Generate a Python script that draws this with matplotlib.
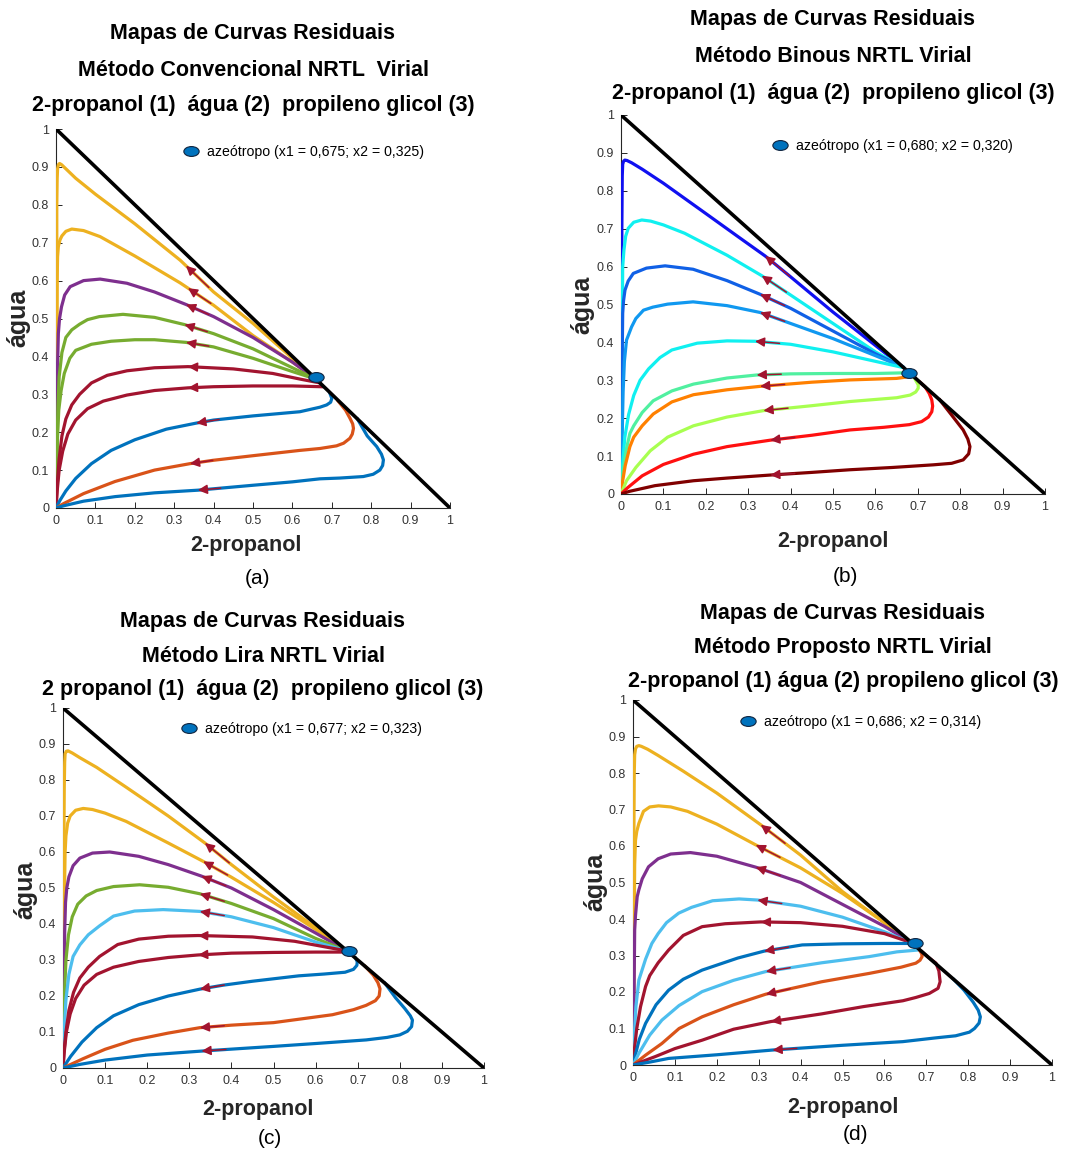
import numpy as np
import matplotlib
matplotlib.use('Agg')
import matplotlib.pyplot as plt
from matplotlib.path import Path
from matplotlib.transforms import Affine2D

plt.rcParams['font.family'] = ['Liberation Sans', 'DejaVu Sans']

# colours (MATLAB defaults + jet for panel b)
YEL = '#EDB120'
PUR = '#7E2F8E'
GRN = '#77AC30'
RED = '#A2142F'
BLU = '#0072BD'
ORA = '#D95319'
LBL = '#4DBEEE'
ARROW = '#A2142F'

TICKS = [0, 0.1, 0.2, 0.3, 0.4, 0.5, 0.6, 0.7, 0.8, 0.9, 1]
TICK_LABELS = ['0', '0.1', '0.2', '0.3', '0.4', '0.5', '0.6', '0.7', '0.8', '0.9', '1']

# ---------------- panel (a) ----------------
A_TITLE = ['Mapas de Curvas Residuais',
           'Método Convencional NRTL  Virial',
           '2-propanol (1)  água (2)  propileno glicol (3)']
A_AZEO = (0.66, 0.345)
A_LEGEND = 'azeótropo (x1 = 0,675; x2 = 0,325)'
A_COLORS = [YEL, YEL, PUR, GRN, GRN, RED, RED, BLU, ORA, BLU]
A_X = [
    [0.66, 0.6, 0.5, 0.4, 0.315, 0.2, 0.1, 0.05, 0.025, 0.014, 0.009, 0.006, 0.004, 0.003, 0.002, 0.002, 0.001, 0],
    [0.66, 0.6, 0.5, 0.4, 0.315, 0.2, 0.112, 0.07, 0.04, 0.025, 0.015, 0.01, 0.006, 0.004, 0.003, 0.002, 0.001, 0],
    [0.66, 0.6, 0.5, 0.4, 0.33, 0.25, 0.18, 0.112, 0.07, 0.036, 0.022, 0.014, 0.009, 0.006, 0.004, 0.003, 0.002, 0],
    [0.66, 0.6, 0.5, 0.4, 0.326, 0.25, 0.17, 0.11, 0.08, 0.06, 0.04, 0.025, 0.015, 0.008, 0.005, 0.003, 0.001, 0],
    [0.66, 0.6, 0.5, 0.4, 0.33, 0.25, 0.2, 0.14, 0.09, 0.05, 0.035, 0.021, 0.013, 0.007, 0.004, 0.002, 0],
    [0.67, 0.62, 0.55, 0.45, 0.335, 0.25, 0.18, 0.13, 0.09, 0.06, 0.04, 0.025, 0.015, 0.008, 0.003, 0],
    [0.675, 0.6, 0.5, 0.4, 0.335, 0.25, 0.18, 0.12, 0.08, 0.05, 0.03, 0.017, 0.008, 0.003, 0],
    [0.695, 0.7, 0.697, 0.687, 0.67, 0.619, 0.5, 0.4, 0.356, 0.28, 0.2, 0.14, 0.09, 0.05, 0.025, 0.01, 0],
    [0.717, 0.735, 0.746, 0.753, 0.755, 0.752, 0.746, 0.73, 0.712, 0.67, 0.619, 0.5, 0.4, 0.34, 0.25, 0.15, 0.07, 0.02, 0],
    [0.765, 0.79, 0.814, 0.826, 0.831, 0.829, 0.822, 0.805, 0.78, 0.72, 0.67, 0.6, 0.5, 0.36, 0.25, 0.15, 0.07, 0.02, 0],
]
A_Y = [
    [0.34, 0.395, 0.487, 0.57, 0.654, 0.75, 0.828, 0.87, 0.895, 0.906, 0.909, 0.906, 0.895, 0.87, 0.8, 0.5, 0.2, 0],
    [0.34, 0.385, 0.455, 0.535, 0.594, 0.665, 0.716, 0.732, 0.736, 0.73, 0.718, 0.707, 0.69, 0.663, 0.6, 0.4, 0.2, 0],
    [0.34, 0.385, 0.45, 0.505, 0.537, 0.57, 0.593, 0.604, 0.6, 0.584, 0.562, 0.531, 0.5, 0.461, 0.38, 0.28, 0.15, 0],
    [0.34, 0.37, 0.42, 0.46, 0.484, 0.503, 0.511, 0.505, 0.497, 0.485, 0.47, 0.45, 0.41, 0.346, 0.27, 0.18, 0.08, 0],
    [0.34, 0.36, 0.395, 0.425, 0.437, 0.444, 0.444, 0.44, 0.432, 0.416, 0.395, 0.355, 0.31, 0.258, 0.19, 0.1, 0],
    [0.33, 0.34, 0.355, 0.367, 0.373, 0.37, 0.362, 0.35, 0.33, 0.3, 0.272, 0.235, 0.19, 0.13, 0.06, 0],
    [0.32, 0.322, 0.322, 0.32, 0.317, 0.31, 0.298, 0.282, 0.262, 0.232, 0.195, 0.15, 0.1, 0.045, 0],
    [0.303, 0.289, 0.279, 0.272, 0.266, 0.254, 0.243, 0.232, 0.224, 0.208, 0.18, 0.152, 0.117, 0.078, 0.045, 0.02, 0],
    [0.281, 0.258, 0.237, 0.222, 0.21, 0.195, 0.184, 0.171, 0.164, 0.157, 0.152, 0.138, 0.126, 0.117, 0.1, 0.07, 0.038, 0.012, 0],
    [0.235, 0.19, 0.162, 0.142, 0.127, 0.112, 0.1, 0.089, 0.083, 0.079, 0.077, 0.069, 0.06, 0.047, 0.04, 0.03, 0.018, 0.006, 0],
]
A_ARROW_X = [0.33, 0.335, 0.33, 0.326, 0.33, 0.335, 0.335, 0.356, 0.34, 0.36]

# ---------------- panel (b) ----------------
B_TITLE = ['Mapas de Curvas Residuais',
           'Método Binous NRTL Virial',
           '2-propanol (1)  água (2)  propileno glicol (3)']
B_AZEO = (0.68, 0.32)
B_LEGEND = 'azeótropo (x1 = 0,680; x2 = 0,320)'
B_COLORS = ['#1010F0', '#10F0F0', '#1060E6', '#1098F0', '#10F0F0',
            '#50F0A0', '#FF8000', '#A8FF50', '#FF1010', '#800000']
B_X = [
    [0.665, 0.6, 0.5, 0.4, 0.34, 0.281, 0.2, 0.1, 0.05, 0.025, 0.014, 0.009, 0.006, 0.004, 0.003, 0.002, 0.002, 0.001, 0],
    [0.665, 0.6, 0.5, 0.4, 0.332, 0.25, 0.15, 0.1, 0.07, 0.049, 0.03, 0.017, 0.011, 0.007, 0.004, 0.003, 0.002, 0.001, 0],
    [0.665, 0.6, 0.5, 0.4, 0.328, 0.25, 0.17, 0.104, 0.06, 0.029, 0.017, 0.0094, 0.006, 0.004, 0.003, 0.002, 0.001, 0],
    [0.665, 0.6, 0.5, 0.4, 0.328, 0.25, 0.17, 0.11, 0.075, 0.053, 0.035, 0.025, 0.013, 0.008, 0.005, 0.003, 0.001, 0],
    [0.66, 0.6, 0.5, 0.4, 0.316, 0.25, 0.18, 0.12, 0.092, 0.065, 0.045, 0.03, 0.018, 0.009, 0.004, 0.001, 0],
    [0.682, 0.6, 0.5, 0.4, 0.32, 0.25, 0.171, 0.12, 0.076, 0.05, 0.03, 0.021, 0.012, 0.005, 0],
    [0.682, 0.65, 0.54, 0.45, 0.328, 0.25, 0.171, 0.12, 0.076, 0.05, 0.03, 0.021, 0.01, 0.004, 0],
    [0.69, 0.697, 0.701, 0.701, 0.695, 0.682, 0.65, 0.54, 0.45, 0.336, 0.25, 0.171, 0.11, 0.069, 0.035, 0.013, 0],
    [0.705, 0.717, 0.727, 0.733, 0.735, 0.733, 0.725, 0.709, 0.68, 0.62, 0.54, 0.45, 0.352, 0.25, 0.171, 0.1, 0.05, 0.015, 0],
    [0.752, 0.78, 0.807, 0.818, 0.823, 0.82, 0.807, 0.78, 0.737, 0.64, 0.54, 0.45, 0.352, 0.25, 0.171, 0.08, 0.02, 0],
]
B_Y = [
    [0.335, 0.392, 0.48, 0.573, 0.628, 0.675, 0.74, 0.82, 0.857, 0.874, 0.88, 0.881, 0.878, 0.87, 0.84, 0.7, 0.4, 0.1, 0],
    [0.335, 0.375, 0.45, 0.525, 0.576, 0.63, 0.688, 0.71, 0.72, 0.723, 0.717, 0.701, 0.68, 0.644, 0.6, 0.45, 0.25, 0.1, 0],
    [0.335, 0.37, 0.43, 0.49, 0.527, 0.563, 0.593, 0.602, 0.596, 0.582, 0.562, 0.538, 0.51, 0.477, 0.38, 0.25, 0.1, 0],
    [0.335, 0.365, 0.41, 0.45, 0.479, 0.497, 0.507, 0.501, 0.493, 0.485, 0.463, 0.441, 0.406, 0.35, 0.27, 0.17, 0.07, 0],
    [0.335, 0.35, 0.375, 0.395, 0.403, 0.404, 0.398, 0.38, 0.36, 0.33, 0.3, 0.26, 0.21, 0.15, 0.08, 0.03, 0],
    [0.32, 0.318, 0.318, 0.317, 0.314, 0.306, 0.29, 0.272, 0.246, 0.215, 0.18, 0.16, 0.115, 0.06, 0],
    [0.31, 0.305, 0.301, 0.295, 0.284, 0.275, 0.262, 0.243, 0.211, 0.18, 0.15, 0.125, 0.075, 0.035, 0],
    [0.31, 0.296, 0.288, 0.279, 0.269, 0.261, 0.254, 0.244, 0.233, 0.22, 0.203, 0.18, 0.15, 0.114, 0.07, 0.035, 0],
    [0.295, 0.283, 0.265, 0.248, 0.232, 0.217, 0.203, 0.191, 0.183, 0.176, 0.169, 0.155, 0.142, 0.125, 0.105, 0.078, 0.048, 0.016, 0],
    [0.248, 0.208, 0.169, 0.145, 0.125, 0.106, 0.09, 0.081, 0.077, 0.07, 0.064, 0.057, 0.05, 0.042, 0.035, 0.022, 0.007, 0],
]
B_ARROW_X = [0.34, 0.332, 0.328, 0.328, 0.316, 0.32, 0.328, 0.336, 0.352, 0.352]

# ---------------- panel (c) ----------------
C_TITLE = ['Mapas de Curvas Residuais',
           'Método Lira NRTL Virial',
           '2 propanol (1)  água (2)  propileno glicol (3)']
C_AZEO = (0.68, 0.326)
C_LEGEND = 'azeótropo (x1 = 0,677; x2 = 0,323)'
C_COLORS = [YEL, YEL, PUR, GRN, LBL, RED, RED, BLU, ORA, BLU]
C_X = [
    [0.675, 0.6, 0.5, 0.4, 0.337, 0.25, 0.15, 0.08, 0.04, 0.022, 0.012, 0.008, 0.005, 0.004, 0.003, 0.002, 0.002, 0.001, 0],
    [0.675, 0.6, 0.5, 0.4, 0.333, 0.25, 0.15, 0.1, 0.07, 0.048, 0.03, 0.017, 0.011, 0.007, 0.005, 0.003, 0.002, 0.001, 0],
    [0.675, 0.6, 0.5, 0.4, 0.329, 0.25, 0.18, 0.111, 0.07, 0.04, 0.024, 0.014, 0.009, 0.006, 0.004, 0.003, 0.002, 0],
    [0.675, 0.6, 0.5, 0.4, 0.325, 0.25, 0.182, 0.12, 0.08, 0.055, 0.035, 0.022, 0.013, 0.007, 0.004, 0.002, 0],
    [0.675, 0.6, 0.5, 0.4, 0.325, 0.238, 0.17, 0.12, 0.087, 0.06, 0.04, 0.024, 0.014, 0.007, 0.003, 0.001, 0],
    [0.675, 0.62, 0.55, 0.45, 0.321, 0.25, 0.18, 0.13, 0.087, 0.06, 0.04, 0.025, 0.014, 0.007, 0.002, 0],
    [0.675, 0.6, 0.5, 0.4, 0.321, 0.25, 0.18, 0.12, 0.08, 0.05, 0.03, 0.017, 0.008, 0.003, 0],
    [0.695, 0.699, 0.698, 0.69, 0.67, 0.62, 0.56, 0.45, 0.38, 0.325, 0.25, 0.18, 0.12, 0.08, 0.045, 0.018, 0],
    [0.718, 0.737, 0.748, 0.753, 0.751, 0.742, 0.72, 0.69, 0.64, 0.5, 0.4, 0.325, 0.25, 0.166, 0.1, 0.048, 0],
    [0.765, 0.79, 0.812, 0.825, 0.83, 0.828, 0.818, 0.8, 0.77, 0.72, 0.6, 0.5, 0.329, 0.2, 0.1, 0.04, 0],
]
C_Y = [
    [0.325, 0.39, 0.475, 0.565, 0.625, 0.7, 0.78, 0.835, 0.862, 0.875, 0.881, 0.88, 0.873, 0.85, 0.78, 0.6, 0.35, 0.1, 0],
    [0.325, 0.385, 0.46, 0.53, 0.574, 0.625, 0.685, 0.708, 0.718, 0.721, 0.716, 0.7, 0.68, 0.645, 0.6, 0.45, 0.25, 0.1, 0],
    [0.325, 0.375, 0.44, 0.5, 0.533, 0.565, 0.588, 0.6, 0.597, 0.583, 0.562, 0.531, 0.5, 0.46, 0.38, 0.28, 0.15, 0],
    [0.325, 0.36, 0.415, 0.457, 0.484, 0.502, 0.509, 0.504, 0.493, 0.478, 0.455, 0.42, 0.37, 0.3, 0.22, 0.12, 0],
    [0.325, 0.35, 0.39, 0.42, 0.435, 0.44, 0.436, 0.422, 0.395, 0.37, 0.342, 0.31, 0.26, 0.19, 0.11, 0.04, 0],
    [0.325, 0.337, 0.352, 0.364, 0.368, 0.366, 0.358, 0.343, 0.31, 0.28, 0.25, 0.21, 0.16, 0.1, 0.04, 0],
    [0.322, 0.322, 0.321, 0.319, 0.314, 0.307, 0.296, 0.28, 0.26, 0.23, 0.193, 0.15, 0.1, 0.045, 0],
    [0.305, 0.295, 0.285, 0.274, 0.266, 0.261, 0.256, 0.241, 0.23, 0.219, 0.2, 0.176, 0.145, 0.112, 0.072, 0.032, 0],
    [0.282, 0.258, 0.237, 0.22, 0.2, 0.187, 0.174, 0.162, 0.148, 0.126, 0.119, 0.112, 0.097, 0.077, 0.052, 0.026, 0],
    [0.235, 0.195, 0.165, 0.145, 0.133, 0.115, 0.102, 0.092, 0.085, 0.078, 0.068, 0.06, 0.047, 0.036, 0.022, 0.01, 0],
]
C_ARROW_X = [0.337, 0.333, 0.329, 0.325, 0.325, 0.321, 0.321, 0.325, 0.325, 0.329]

# ---------------- panel (d) ----------------
D_TITLE = ['Mapas de Curvas Residuais',
           'Método Proposto NRTL Virial',
           '2-propanol (1) água (2) propileno glicol (3)']
D_AZEO = (0.673, 0.333)
D_LEGEND = 'azeótropo (x1 = 0,686; x2 = 0,314)'
D_COLORS = [YEL, YEL, PUR, LBL, RED, BLU, LBL, ORA, RED, BLU]
D_X = [
    [0.665, 0.6, 0.5, 0.4, 0.305, 0.2, 0.12, 0.06, 0.035, 0.02, 0.014, 0.009, 0.006, 0.004, 0.003, 0.002, 0.002, 0.001, 0],
    [0.665, 0.6, 0.5, 0.4, 0.293, 0.2, 0.13, 0.09, 0.061, 0.04, 0.025, 0.014, 0.009, 0.006, 0.004, 0.003, 0.002, 0],
    [0.665, 0.6, 0.5, 0.4, 0.293, 0.2, 0.137, 0.09, 0.06, 0.037, 0.022, 0.014, 0.01, 0.006, 0.004, 0.003, 0.002, 0],
    [0.665, 0.6, 0.5, 0.4, 0.297, 0.253, 0.19, 0.14, 0.109, 0.08, 0.06, 0.045, 0.03, 0.014, 0.007, 0.003, 0],
    [0.665, 0.6, 0.5, 0.4, 0.305, 0.22, 0.165, 0.12, 0.085, 0.06, 0.04, 0.03, 0.018, 0.009, 0.003, 0],
    [0.67, 0.6, 0.5, 0.404, 0.313, 0.25, 0.165, 0.12, 0.085, 0.055, 0.03, 0.015, 0.005, 0],
    [0.68, 0.63, 0.564, 0.45, 0.317, 0.24, 0.165, 0.11, 0.069, 0.04, 0.014, 0],
    [0.682, 0.689, 0.69, 0.685, 0.675, 0.64, 0.564, 0.45, 0.317, 0.24, 0.165, 0.11, 0.069, 0.03, 0],
    [0.69, 0.705, 0.723, 0.73, 0.733, 0.728, 0.707, 0.675, 0.644, 0.55, 0.45, 0.329, 0.24, 0.165, 0.1, 0.053, 0],
    [0.765, 0.79, 0.812, 0.824, 0.829, 0.826, 0.815, 0.803, 0.77, 0.72, 0.644, 0.5, 0.333, 0.2, 0.085, 0.04, 0],
]
D_Y = [
    [0.335, 0.39, 0.475, 0.575, 0.658, 0.745, 0.805, 0.848, 0.865, 0.873, 0.875, 0.873, 0.866, 0.85, 0.8, 0.6, 0.35, 0.1, 0],
    [0.335, 0.39, 0.47, 0.54, 0.603, 0.66, 0.695, 0.707, 0.71, 0.707, 0.695, 0.662, 0.64, 0.616, 0.55, 0.4, 0.2, 0],
    [0.335, 0.38, 0.44, 0.5, 0.542, 0.572, 0.582, 0.578, 0.565, 0.543, 0.51, 0.48, 0.461, 0.41, 0.37, 0.25, 0.12, 0],
    [0.335, 0.365, 0.405, 0.435, 0.452, 0.455, 0.45, 0.432, 0.416, 0.39, 0.36, 0.333, 0.29, 0.233, 0.16, 0.08, 0],
    [0.335, 0.36, 0.38, 0.39, 0.392, 0.387, 0.379, 0.355, 0.315, 0.28, 0.245, 0.215, 0.16, 0.1, 0.04, 0],
    [0.333, 0.333, 0.332, 0.329, 0.312, 0.293, 0.26, 0.235, 0.205, 0.165, 0.114, 0.07, 0.025, 0],
    [0.315, 0.31, 0.297, 0.28, 0.256, 0.232, 0.201, 0.163, 0.123, 0.082, 0.032, 0],
    [0.318, 0.305, 0.297, 0.287, 0.279, 0.268, 0.251, 0.228, 0.194, 0.165, 0.132, 0.1, 0.059, 0.027, 0],
    [0.31, 0.295, 0.279, 0.258, 0.228, 0.21, 0.196, 0.185, 0.176, 0.16, 0.14, 0.119, 0.098, 0.068, 0.045, 0.023, 0],
    [0.235, 0.205, 0.172, 0.15, 0.132, 0.115, 0.1, 0.09, 0.08, 0.074, 0.064, 0.054, 0.041, 0.028, 0.018, 0.008, 0],
]
D_ARROW_X = [0.305, 0.293, 0.293, 0.297, 0.305, 0.313, 0.317, 0.317, 0.329, 0.333]

# ellipse marker for the azeotrope
circ = Path.unit_circle()
ELLIPSE = Path(Affine2D().scale(1.55, 1.0).transform(circ.vertices), circ.codes)


def px(x, y):
    # pixel position (from top-left) -> figure fraction
    return x / 1080, 1 - y / 1150


def y_on_curve(xs, ys, x0):
    xs = np.asarray(xs)
    ys = np.asarray(ys)
    k = int(np.argmax(xs))
    return np.interp(x0, xs[k:][::-1], ys[k:][::-1])


def draw_panel(rect, xs_list, ys_list, colors, arrow_x, azeo, legend_txt, leg_px):
    ax = fig.add_axes(rect)
    for xs, ys, c in zip(xs_list, ys_list, colors):
        ax.plot(xs, ys, color=c, lw=2.3, zorder=3, solid_joinstyle='round')
    # triangle edge on top of the curves
    ax.plot([0, 1], [1, 0], color='black', lw=2.6, zorder=3.5, solid_capstyle='butt')
    for xs, ys, xa in zip(xs_list, ys_list, arrow_x):
        tip = (xa, y_on_curve(xs, ys, xa))
        tail = (xa + 0.058, y_on_curve(xs, ys, xa + 0.058))
        ax.annotate('', xy=tip, xytext=tail, zorder=4,
                    arrowprops=dict(arrowstyle='-|>', color=ARROW, lw=1.1,
                                    mutation_scale=14, shrinkA=0, shrinkB=0))
    h, = ax.plot([azeo[0]], [azeo[1]], linestyle='none', marker=ELLIPSE,
                 markersize=11, markerfacecolor=BLU, markeredgecolor='#10243f',
                 markeredgewidth=0.8, zorder=5)
    ax.legend([h], [legend_txt], loc='center left', frameon=False,
              bbox_to_anchor=px(*leg_px), bbox_transform=fig.transFigure,
              handlelength=1.0, handletextpad=0.6, borderpad=0, borderaxespad=0,
              prop={'size': 10.2})
    ax.set_xlim(0, 1)
    ax.set_ylim(0, 1)
    ax.set_xticks(TICKS)
    ax.set_xticklabels(TICK_LABELS)
    ax.set_yticks(TICKS)
    ax.set_yticklabels(TICK_LABELS)
    ax.spines['top'].set_visible(False)
    ax.spines['right'].set_visible(False)
    for s in ('left', 'bottom'):
        ax.spines[s].set_color('#262626')
        ax.spines[s].set_linewidth(0.8)
    ax.tick_params(direction='in', length=4, width=0.7, colors='#262626',
                   labelsize=9, pad=5)
    for lab in ax.get_xticklabels() + ax.get_yticklabels():
        lab.set_color('#333333')
    return ax


def titles(lines, cx, ys):
    for t, y in zip(lines, ys):
        fig.text(*px(cx, y), t, ha='center', va='center', fontsize=15.5,
                 fontweight='bold')


def labels(cx, xy, letter_y, yx, yy, letter):
    fig.text(*px(cx, xy), '2-propanol', ha='center', va='center',
             fontsize=15.5, fontweight='bold', color='#262626')
    fig.text(*px(cx + 12, letter_y), letter, ha='center', va='center', fontsize=15)
    fig.text(*px(yx, yy), 'água', ha='center', va='center', rotation=90,
             fontsize=18, fontweight='bold', color='#262626')


fig = plt.figure(figsize=(10.8, 11.5), dpi=100)

draw_panel([56 / 1080, 1 - 508 / 1150, 394 / 1080, 379 / 1150],
           A_X, A_Y, A_COLORS, A_ARROW_X, A_AZEO, A_LEGEND, (184, 152))
titles(A_TITLE, 253, [34, 70, 106])
labels(246, 546, 578, 18, 318, '(a)')

draw_panel([621 / 1080, 1 - 494 / 1150, 424 / 1080, 379 / 1150],
           B_X, B_Y, B_COLORS, B_ARROW_X, B_AZEO, B_LEGEND, (773, 146))
titles(B_TITLE, 833, [20, 57, 94])
labels(833, 542, 577, 582, 305, '(b)')

draw_panel([63 / 1080, 1 - 1068 / 1150, 421 / 1080, 360 / 1150],
           C_X, C_Y, C_COLORS, C_ARROW_X, C_AZEO, C_LEGEND, (182, 729))
titles(C_TITLE, 263, [622, 656, 689])
labels(258, 1109, 1138, 25, 890, '(c)')

draw_panel([633 / 1080, 1 - 1065 / 1150, 419 / 1080, 365 / 1150],
           D_X, D_Y, D_COLORS, D_ARROW_X, D_AZEO, D_LEGEND, (741, 722))
titles(D_TITLE, 843, [614, 647, 681])
labels(843, 1108, 1134, 595, 882, '(d)')

fig.savefig('out.png', dpi=100)
